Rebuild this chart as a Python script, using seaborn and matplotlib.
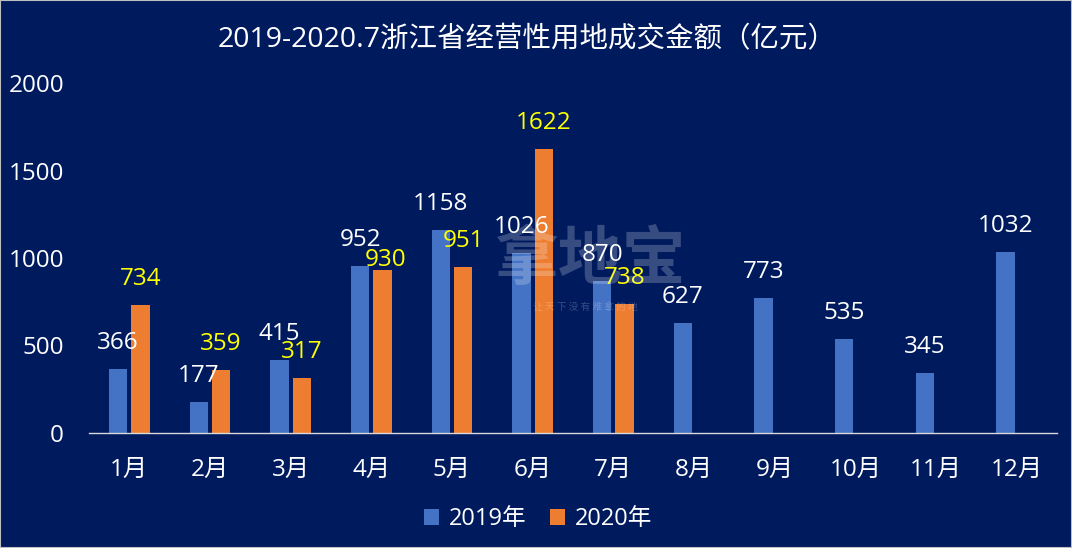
import matplotlib
matplotlib.use("Agg")
import matplotlib.pyplot as plt
import seaborn as sns
import pandas as pd
import numpy as np

months = ["1月", "2月", "3月", "4月", "5月", "6月", "7月", "8月", "9月", "10月", "11月", "12月"]
vals_2019 = [366, 177, 415, 952, 1158, 1026, 870, 627, 773, 535, 345, 1032]
vals_2020 = [734, 359, 317, 930, 951, 1622, 738, None, None, None, None, None]
series = ["2019年", "2020年"]
title = "2019-2020.7浙江省经营性用地成交金额（亿元）"
watermark = "拿地宝"
watermark_sub = "让 天 下 没 有 难 拿 的 地"

BG = "#001A5E"
BLUE = "#4472C4"
ORANGE = "#ED7D31"

sns.set_theme(style="white")
plt.rcParams['font.family'] = ['Open Sans', 'Noto Sans CJK SC', 'DejaVu Sans']

rows = []
for m, a, b in zip(months, vals_2019, vals_2020):
    rows.append({"month": m, "year": series[0], "value": a})
    rows.append({"month": m, "year": series[1], "value": (np.nan if b is None else b)})
df = pd.DataFrame(rows)

fig = plt.figure(figsize=(10.72, 5.48), dpi=100, facecolor=BG)
ax = fig.add_axes([89/1072, 1-433/548, (1057-89)/1072, 350/548])
ax.set_facecolor(BG)

sns.barplot(data=df, x="month", y="value", hue="year", order=months, hue_order=series,
            palette=[BLUE, ORANGE], width=0.55, gap=0.18, ax=ax, legend=True,
            saturation=1, errorbar=None, linewidth=0)

ax.set_ylim(0, 2000)
ax.set_xlim(-0.5, 11.5)
ax.set_yticks([0, 500, 1000, 1500, 2000])
ax.tick_params(axis="y", colors="white", labelsize=17.5, length=0, pad=18)
ax.tick_params(axis="x", colors="white", labelsize=17.5, length=0, pad=18)
ax.set_xlabel("")
ax.set_ylabel("")
for s in ["top", "right", "left"]:
    ax.spines[s].set_visible(False)
ax.spines["bottom"].set_color("#D9D9D9")
ax.spines["bottom"].set_linewidth(1)

# watermark
fig.text(590/1072, 1-260/548, watermark, ha="center", va="center", color="white",
         alpha=0.22, fontsize=46, fontweight="bold", family=['Noto Sans CJK SC'], zorder=0.5)
fig.text(585/1072, 1-307/548, watermark_sub, ha="center", va="center", color="white",
         alpha=0.22, fontsize=7, family=['Noto Sans CJK SC'], zorder=0.5)

# label nudges (pixels): (dx, dy) relative to default
nudge = {("2020年", 3): (3, -16)}

for ci, cont in enumerate(ax.containers):
    name = series[ci]
    color = "white" if ci == 0 else "#FFFF00"
    for i, bar in enumerate(cont):
        h = bar.get_height()
        if h is None or np.isnan(h):
            continue
        dx, dy = nudge.get((name, i), (0, 0))
        ax.annotate(f"{int(h)}", (bar.get_x() + bar.get_width()/2, h),
                    xytext=(dx*0.72, (26+dy)*0.72), textcoords="offset points",
                    ha="center", va="center", color=color, fontsize=17.5)

leg = ax.legend(loc="center", frameon=False,
                ncol=2, fontsize=17, labelcolor="white", handlelength=0.65, handleheight=0.65,
                handletextpad=0.4, columnspacing=1.0)
leg.set_bbox_to_anchor((538/1072, 1-519/548), transform=fig.transFigure)

fig.text(527/1072, 1-40/548, title, ha="center", va="center", color="white", fontsize=20.5)

border = plt.Rectangle((0, 0), 1, 1, transform=fig.transFigure, fill=False,
                       edgecolor="#BFBFBF", linewidth=1.5)
fig.patches.append(border)

fig.savefig("out.png", dpi=100, facecolor=BG)
